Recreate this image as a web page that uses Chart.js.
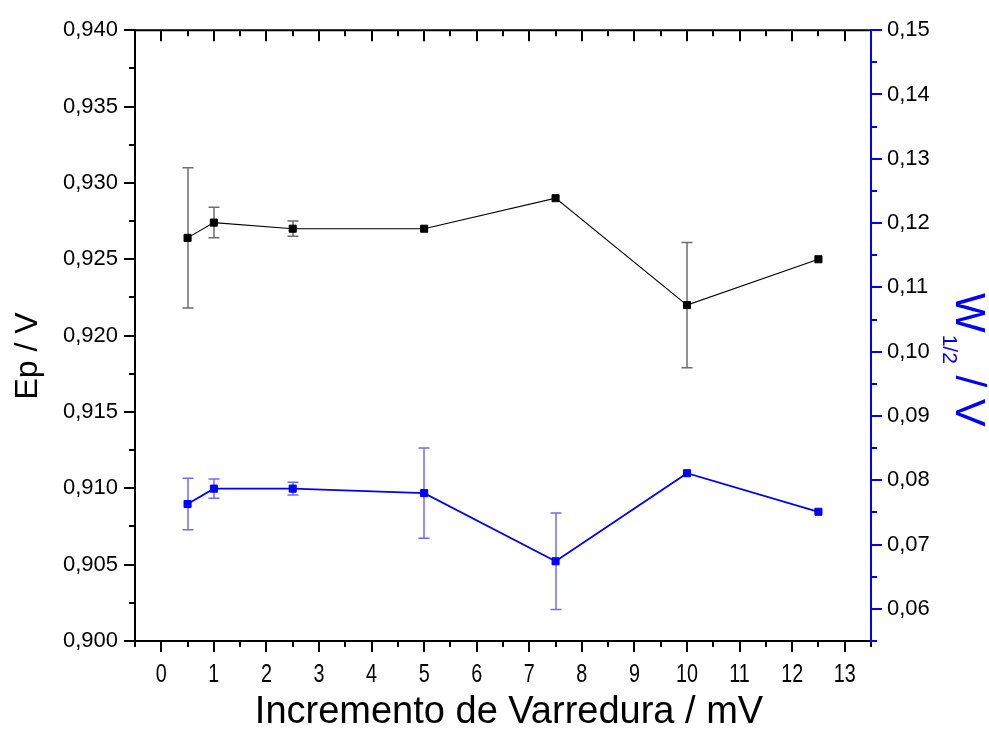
<!DOCTYPE html>
<html>
<head>
<meta charset="utf-8">
<title>Ep e W1/2 vs incremento de varredura</title>
<script src="https://cdn.jsdelivr.net/npm/chart.js@4.4.1/dist/chart.umd.min.js"></script>
<style>
  html, body { margin: 0; padding: 0; background: #fff; }
  #wrap { width: 989px; height: 729px; }
</style>
</head>
<body>
<div id="wrap"><canvas id="epChart" width="989" height="729"></canvas></div>
<script>
// Incremento de varredura (mV)
const increments = [0.5, 1, 2.5, 5, 7.5, 10, 12.5];

// Potencial de pico (V) e desvio
const epValues = [0.9264, 0.9274, 0.9270, 0.9270, 0.9290, 0.9220, 0.9250];
const epErrors = [0.0046, 0.0010, 0.0005, 0, 0, 0.0041, 0];

// Largura de meia altura (V) e desvio
const w12Values = [0.0763, 0.0787, 0.0787, 0.0780, 0.0674, 0.0811, 0.0751];
const w12Errors = [0.0040, 0.0015, 0.0010, 0.0070, 0.0075, 0, 0];

// Valores de marcação dos eixos
const xTickValues = [0, 1, 2, 3, 4, 5, 6, 7, 8, 9, 10, 11, 12, 13];
const epTickValues = [0.900, 0.905, 0.910, 0.915, 0.920, 0.925, 0.930, 0.935, 0.940];
const w12TickValues = [0.06, 0.07, 0.08, 0.09, 0.10, 0.11, 0.12, 0.13, 0.14, 0.15];

const BLUE = '#0000ff';
const FONT = "'Liberation Sans', Arial, sans-serif";

const comma = (v, d) => v.toFixed(d).replace('.', ',');
const setTicks = vals => scale => { scale.ticks = vals.map(v => ({ value: v })); };
const toPoints = vals => vals.map((v, i) => ({ x: increments[i], y: v }));

// barras de erro verticais com traço nas pontas
const errorBars = {
  id: 'errorBars',
  beforeDatasetsDraw(chart) {
    const ctx = chart.ctx;
    const x = chart.scales.x;
    chart.data.datasets.forEach(ds => {
      const y = chart.scales[ds.yAxisID];
      ctx.save();
      ctx.strokeStyle = ds.errorColor;
      ctx.lineWidth = 1.5;
      ds.data.forEach((pt, i) => {
        const e = ds.errors[i];
        if (!e) return;
        const px = Math.round(x.getPixelForValue(pt.x));
        const top = y.getPixelForValue(pt.y + e);
        const bot = y.getPixelForValue(pt.y - e);
        ctx.beginPath();
        ctx.moveTo(px, top); ctx.lineTo(px, bot);
        ctx.moveTo(px - 5.5, top); ctx.lineTo(px + 5.5, top);
        ctx.moveTo(px - 5.5, bot); ctx.lineTo(px + 5.5, bot);
        ctx.stroke();
      });
      ctx.restore();
    });
  }
};

// linhas dos eixos, marcas maiores e menores, rótulos de x e títulos
const axisFrame = {
  id: 'axisFrame',
  afterDraw(chart) {
    const { ctx, chartArea: a, scales } = chart;
    ctx.save();
    ctx.lineWidth = 2;
    ctx.lineCap = 'square';

    // x: marcas a cada 0,5 embaixo (para fora) e em cima (para dentro)
    ctx.strokeStyle = '#000';
    ctx.beginPath();
    for (let k = -1; k <= 27; k++) {
      const px = Math.round(scales.x.getPixelForValue(k / 2));
      const len = k % 2 === 0 ? 10 : 5;
      ctx.moveTo(px, a.bottom); ctx.lineTo(px, a.bottom + len);
      ctx.moveTo(px, a.top); ctx.lineTo(px, a.top + len);
    }
    // eixo esquerdo: marcas a cada 0,0025
    for (let k = 0; k <= 16; k++) {
      const py = Math.round(scales.y.getPixelForValue(0.9 + k * 0.0025));
      const len = k % 2 === 0 ? 10 : 5;
      ctx.moveTo(a.left, py); ctx.lineTo(a.left - len, py);
    }
    ctx.moveTo(a.left, a.top); ctx.lineTo(a.left, a.bottom);
    ctx.moveTo(a.left, a.bottom); ctx.lineTo(a.right, a.bottom);
    ctx.moveTo(a.left, a.top); ctx.lineTo(a.right, a.top);
    ctx.stroke();

    // eixo direito azul: marcas a cada 0,005
    ctx.strokeStyle = BLUE;
    ctx.beginPath();
    for (let k = 0; k <= 19; k++) {
      const py = Math.round(scales.y1.getPixelForValue(0.055 + k * 0.005));
      const len = k % 2 === 1 ? 10 : 5;
      ctx.moveTo(a.right, py); ctx.lineTo(a.right + len, py);
    }
    ctx.moveTo(a.right, a.top); ctx.lineTo(a.right, a.bottom);
    ctx.stroke();

    // rótulos do eixo x em letra estreita
    ctx.fillStyle = '#000';
    ctx.font = '26px ' + FONT;
    ctx.textAlign = 'center';
    ctx.textBaseline = 'alphabetic';
    scales.x.ticks.forEach(t => {
      const s = String(t.value);
      const w = ctx.measureText(s).width;
      ctx.fillText(s, scales.x.getPixelForValue(t.value), a.bottom + 41, w * 0.76);
    });

    // título do eixo x
    ctx.font = '38px ' + FONT;
    ctx.fillText('Incremento de Varredura / mV', (a.left + a.right) / 2 + 6, 723);

    // título do eixo esquerdo
    ctx.save();
    ctx.translate(37, 356);
    ctx.rotate(-Math.PI / 2);
    ctx.font = '32px ' + FONT;
    ctx.fillText('Ep / V', 0, 0);
    ctx.restore();

    // título do eixo direito, com subscrito
    ctx.save();
    ctx.translate(956, 293);
    ctx.rotate(Math.PI / 2);
    ctx.fillStyle = BLUE;
    ctx.textAlign = 'left';
    ctx.font = '42px ' + FONT;
    ctx.fillText('W', 0, 0);
    let u = ctx.measureText('W').width + 2;
    ctx.font = '21px ' + FONT;
    ctx.fillText('1/2', u, 13);
    u += ctx.measureText('1/2').width;
    ctx.font = '42px ' + FONT;
    ctx.fillText(' / V', u, 0);
    ctx.restore();

    ctx.restore();
  }
};

new Chart(document.getElementById('epChart'), {
  type: 'line',
  data: {
    datasets: [
      {
        label: 'Ep',
        data: toPoints(epValues),
        errors: epErrors,
        errorColor: '#6e6e6e',
        yAxisID: 'y',
        borderColor: '#000',
        backgroundColor: '#000',
        borderWidth: 1.1,
        pointStyle: 'rect',
        pointRadius: 5,
        pointBorderWidth: 1,
        tension: 0
      },
      {
        label: 'W1/2',
        data: toPoints(w12Values),
        errors: w12Errors,
        errorColor: 'rgba(70, 70, 255, 0.8)',
        yAxisID: 'y1',
        borderColor: BLUE,
        backgroundColor: BLUE,
        borderWidth: 1.8,
        pointStyle: 'rect',
        pointRadius: 5,
        pointBorderWidth: 1,
        tension: 0
      }
    ]
  },
  options: {
    responsive: false,
    animation: false,
    layout: { padding: { top: 27, left: 0, right: 0, bottom: 0 } },
    plugins: { legend: { display: false }, tooltip: { enabled: false } },
    scales: {
      x: {
        type: 'linear',
        min: -0.5,
        max: 13.5,
        afterBuildTicks: setTicks(xTickValues),
        afterFit: s => { s.height = 88; },
        grid: { display: false, drawTicks: false },
        border: { display: false },
        // rótulos desenhados em axisFrame
        ticks: { display: false }
      },
      y: {
        position: 'left',
        min: 0.900,
        max: 0.940,
        afterBuildTicks: setTicks(epTickValues),
        afterFit: s => { s.width = 135; },
        grid: { display: false, drawTicks: false },
        border: { display: false },
        ticks: {
          padding: 17,
          color: '#000',
          font: { family: FONT, size: 22 },
          callback: v => comma(v, 3)
        }
      },
      y1: {
        position: 'right',
        min: 0.055,
        max: 0.15,
        afterBuildTicks: setTicks(w12TickValues),
        afterFit: s => { s.width = 118; },
        grid: { display: false, drawTicks: false },
        border: { display: false },
        ticks: {
          padding: 16,
          color: '#000',
          font: { family: FONT, size: 22 },
          callback: v => comma(v, 2)
        }
      }
    }
  },
  plugins: [errorBars, axisFrame]
});
</script>
</body>
</html>
